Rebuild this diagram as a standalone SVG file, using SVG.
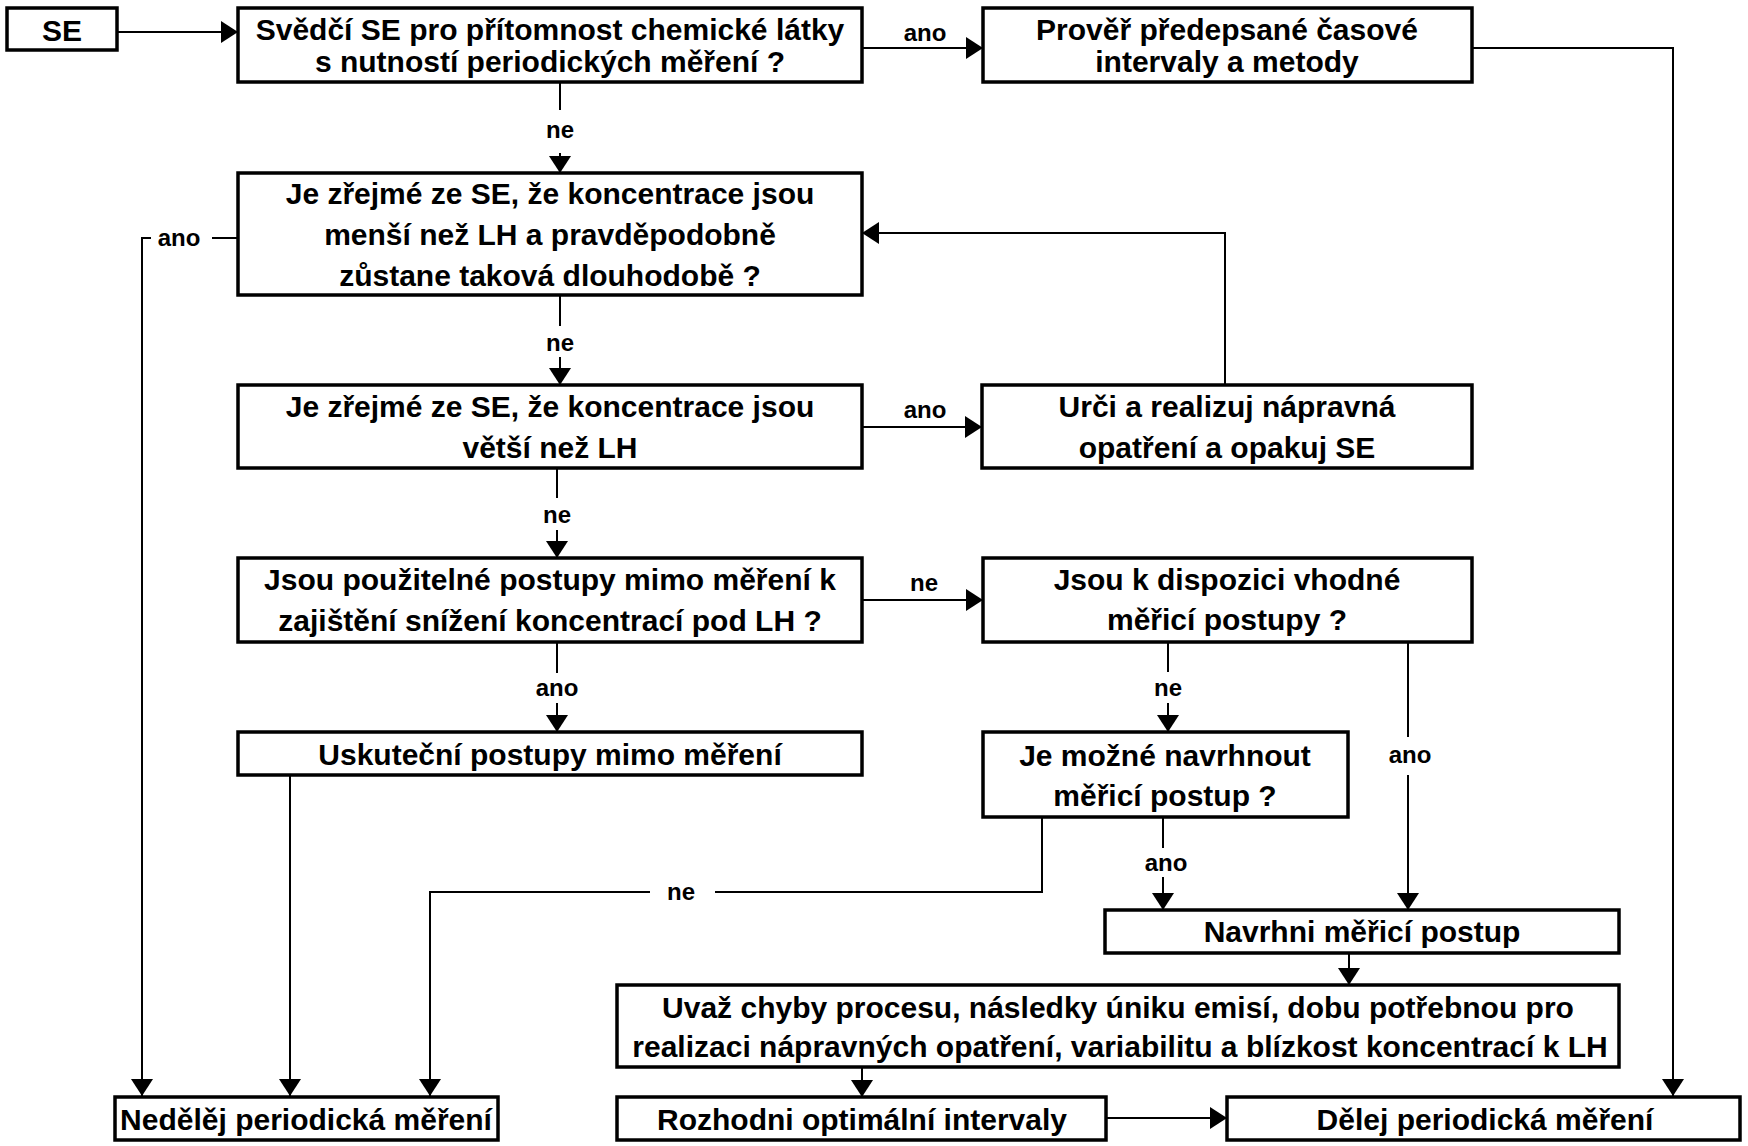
<svg xmlns="http://www.w3.org/2000/svg" width="1748" height="1146" viewBox="0 0 1748 1146">
<style>
.box{fill:#fff;stroke:#000;stroke-width:3.5}
.t{font-family:"Liberation Sans",Arial,sans-serif;font-weight:bold;font-size:30px;fill:#000;text-anchor:middle}
.l{font-family:"Liberation Sans",Arial,sans-serif;font-weight:bold;font-size:24px;fill:#000;text-anchor:middle}
.c{fill:none;stroke:#000;stroke-width:2}
</style>
<defs>
<marker id="ah" markerUnits="userSpaceOnUse" markerWidth="17" markerHeight="22" refX="17" refY="11" orient="auto">
<path d="M0,0 L17,11 L0,22 z" fill="#000"/>
</marker>
</defs>
<rect width="1748" height="1146" fill="#fff"/>
<g id="connectors">
<path class="c" d="M117,32 H238" marker-end="url(#ah)"/>
<path class="c" d="M862,48 H983" marker-end="url(#ah)"/>
<text class="l" x="925" y="41">ano</text>
<path class="c" d="M1472,48 H1673 V1096" marker-end="url(#ah)"/>
<path class="c" d="M560,82 V110"/>
<path class="c" d="M560,153 V173" marker-end="url(#ah)"/>
<text class="l" x="560" y="138">ne</text>
<path class="c" d="M238,238 H212"/>
<path class="c" d="M151,238 H142 V1096" marker-end="url(#ah)"/>
<text class="l" x="179" y="246">ano</text>
<path class="c" d="M560,295 V326"/>
<path class="c" d="M560,357 V385" marker-end="url(#ah)"/>
<text class="l" x="560" y="351">ne</text>
<path class="c" d="M862,427 H982" marker-end="url(#ah)"/>
<text class="l" x="925" y="418">ano</text>
<path class="c" d="M1225,385 V233 H862" marker-end="url(#ah)"/>
<path class="c" d="M557,468 V498"/>
<path class="c" d="M557,530 V558" marker-end="url(#ah)"/>
<text class="l" x="557" y="523">ne</text>
<path class="c" d="M862,600 H983" marker-end="url(#ah)"/>
<text class="l" x="924" y="591">ne</text>
<path class="c" d="M557,642 V673"/>
<path class="c" d="M557,703 V732" marker-end="url(#ah)"/>
<text class="l" x="557" y="696">ano</text>
<path class="c" d="M1168,642 V672"/>
<path class="c" d="M1168,703 V732" marker-end="url(#ah)"/>
<text class="l" x="1168" y="696">ne</text>
<path class="c" d="M1408,642 V737"/>
<path class="c" d="M1408,775 V910" marker-end="url(#ah)"/>
<text class="l" x="1410" y="763">ano</text>
<path class="c" d="M290,775 V1096" marker-end="url(#ah)"/>
<path class="c" d="M1042,817 V892 H715"/>
<path class="c" d="M650,892 H430 V1096" marker-end="url(#ah)"/>
<text class="l" x="681" y="900">ne</text>
<path class="c" d="M1163,817 V848"/>
<path class="c" d="M1163,877 V910" marker-end="url(#ah)"/>
<text class="l" x="1166" y="871">ano</text>
<path class="c" d="M1349,953 V985" marker-end="url(#ah)"/>
<path class="c" d="M862,1067 V1097" marker-end="url(#ah)"/>
<path class="c" d="M1106,1118 H1227" marker-end="url(#ah)"/>
</g>
<g id="n-se"><rect class="box" x="7" y="8" width="110" height="42"/><text class="t" x="62" y="41">SE</text></g>
<g id="n-svedci"><rect class="box" x="238" y="8" width="624" height="74"/><text class="t" x="550" y="40">Svědčí SE pro přítomnost chemické látky</text><text class="t" x="550" y="72">s nutností periodických měření ?</text></g>
<g id="n-prover"><rect class="box" x="983" y="8" width="489" height="74"/><text class="t" x="1227" y="40">Prověř předepsané časové</text><text class="t" x="1227" y="72">intervaly a metody</text></g>
<g id="n-mensi"><rect class="box" x="238" y="173" width="624" height="122"/><text class="t" x="550" y="204">Je zřejmé ze SE, že koncentrace jsou</text><text class="t" x="550" y="245">menší než LH a pravděpodobně</text><text class="t" x="550" y="286">zůstane taková dlouhodobě ?</text></g>
<g id="n-vetsi"><rect class="box" x="238" y="385" width="624" height="83"/><text class="t" x="550" y="417">Je zřejmé ze SE, že koncentrace jsou</text><text class="t" x="550" y="458">větší než LH</text></g>
<g id="n-urci"><rect class="box" x="982" y="385" width="490" height="83"/><text class="t" x="1227" y="417">Urči a realizuj nápravná</text><text class="t" x="1227" y="458">opatření a opakuj SE</text></g>
<g id="n-pouzitelne"><rect class="box" x="238" y="558" width="624" height="84"/><text class="t" x="550" y="590">Jsou použitelné postupy mimo měření k</text><text class="t" x="550" y="631">zajištění snížení koncentrací pod LH ?</text></g>
<g id="n-dispozici"><rect class="box" x="983" y="558" width="489" height="84"/><text class="t" x="1227" y="590">Jsou k dispozici vhodné</text><text class="t" x="1227" y="630">měřicí postupy ?</text></g>
<g id="n-uskutecni"><rect class="box" x="238" y="732" width="624" height="43"/><text class="t" x="550" y="765">Uskuteční postupy mimo měření</text></g>
<g id="n-mozne"><rect class="box" x="983" y="732" width="365" height="85"/><text class="t" x="1165" y="766">Je možné navrhnout</text><text class="t" x="1165" y="806">měřicí postup ?</text></g>
<g id="n-navrhni"><rect class="box" x="1105" y="910" width="514" height="43"/><text class="t" x="1362" y="942">Navrhni měřicí postup</text></g>
<g id="n-uvaz"><rect class="box" x="617" y="985" width="1002" height="82"/><text class="t" x="1118" y="1018">Uvaž chyby procesu, následky úniku emisí, dobu potřebnou pro</text><text class="t" x="1120" y="1057">realizaci nápravných opatření, variabilitu a blízkost koncentrací k LH</text></g>
<g id="n-nedelej"><rect class="box" x="115" y="1097" width="383" height="43"/><text class="t" x="306" y="1130">Nedělěj periodická měření</text></g>
<g id="n-rozhodni"><rect class="box" x="617" y="1097" width="489" height="43"/><text class="t" x="862" y="1130">Rozhodni optimální intervaly</text></g>
<g id="n-delej"><rect class="box" x="1227" y="1097" width="513" height="43"/><text class="t" x="1485" y="1130">Dělej periodická měření</text></g>
</svg>
